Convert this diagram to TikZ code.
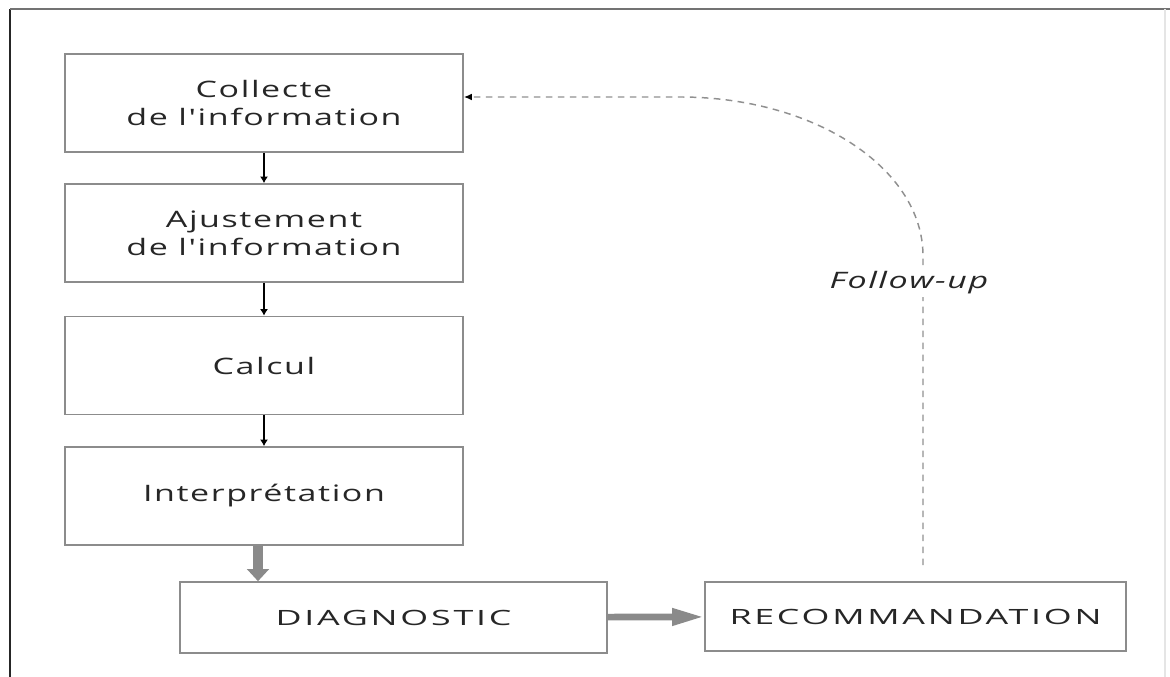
\documentclass[tikz,border=0pt]{standalone}
\usepackage{fontspec}
\setmainfont{Open Sans}[FakeStretch=1.5,LetterSpace=7,Ligatures=TeXOff]
\newfontfamily\capsfont{Open Sans}[FakeStretch=1.7,LetterSpace=13,Ligatures=TeXOff]
\usetikzlibrary{arrows.meta}
\definecolor{boxline}{HTML}{8C8C8C}
\definecolor{ink}{HTML}{262626}
\definecolor{fatgrey}{HTML}{8A8A8A}
\definecolor{dashgrey}{HTML}{909090}
\begin{document}
\begin{tikzpicture}[x=0.75pt,y=-0.75pt,
  stage/.style={draw=boxline,line width=1.2pt,text=ink,align=center,
    font=\fontsize{17pt}{21pt}\selectfont,
    minimum width=298.5pt,minimum height=73.5pt,inner sep=0pt},
  result/.style={draw=boxline,line width=1.2pt,text=ink,
    font=\capsfont\fontsize{15.8pt}{21pt}\selectfont,inner sep=0pt},
  thinarrow/.style={black,line width=0.8pt,-{Latex[length=5pt,width=6pt]}},
  fatdown/.style={fatgrey,line width=7pt,-{Triangle[length=9pt,width=16pt]}},
  fatright/.style={fatgrey,line width=5pt,-{Triangle[length=24pt,width=12pt]}},
  feedback/.style={dashgrey,line width=1.1pt,dash pattern=on 5pt off 4pt,
    -{Latex[black,length=6pt,width=5pt]}},
  frame/.style={line width=1.4pt}
]
\useasboundingbox (0,0) rectangle (1170,677);

% outer frame
\draw[frame,black!85] (10,677) -- (10,9);
\draw[frame,black!55] (10,9) -- (1170,9);
\draw[black!10,line width=0.8pt] (1165,9) -- (1165,677);

% process chain
\node[stage] (c1) at (264,103) {Collecte\\de l'information};
\node[stage] (c2) at (264,233) {Ajustement\\de l'information};
\node[stage] (c3) at (264,365.5) {Calcul};
\node[stage] (c4) at (264,496) {Interprétation};
\node[result,minimum width=320.25pt,minimum height=53.25pt] (diag) at (393.5,617.5) {DIAGNOSTIC};
\node[result,minimum width=315.75pt,minimum height=51.75pt] (rec) at (915.5,616.5) {RECOMMANDATION};

\draw[thinarrow] (c1) -- (c2);
\draw[thinarrow] (c2) -- (c3);
\draw[thinarrow] (c3) -- (c4);

\coordinate (ax) at (258,0);
\draw[fatdown] (c4.south -| ax) -- (diag.north -| ax);
\draw[fatright] (diag) -- (rec);

% follow-up loop back to the first stage
\coordinate (bend) at (923,256);
\coordinate (top) at (680,97);
\draw[feedback,shorten <=12pt] (rec.north -| bend) -- (bend)
  .. controls +(0,-88) and +(134,0) .. (top) -- (c1.east |- top);
\node[fill=white,text=ink,inner sep=2pt,font=\fontsize{17pt}{21pt}\selectfont\itshape] (fu) at (909,283) {Follow-up};
\end{tikzpicture}
\end{document}
